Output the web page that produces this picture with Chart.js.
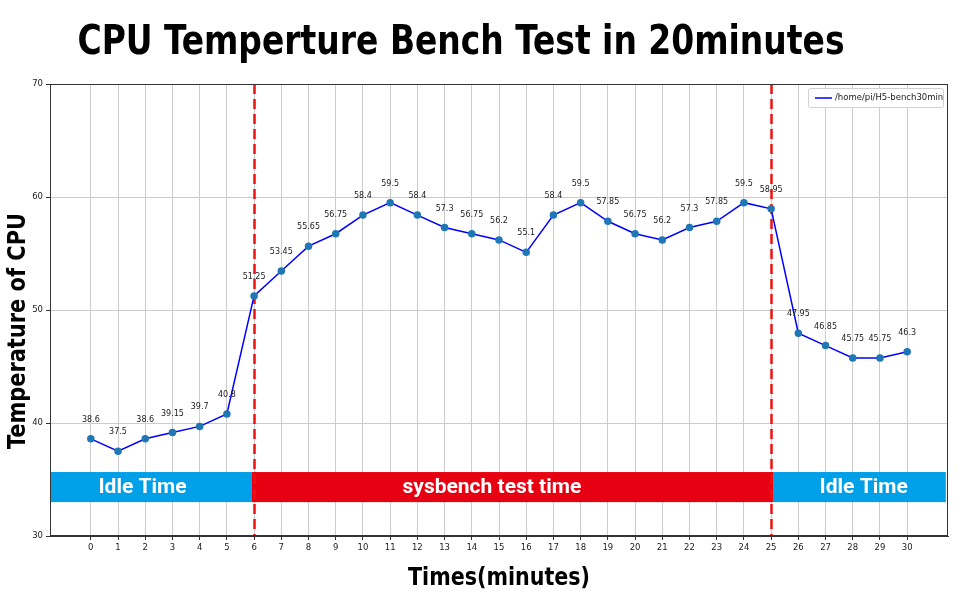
<!DOCTYPE html>
<html>
<head>
<meta charset="utf-8">
<script src="https://cdn.jsdelivr.net/npm/chart.js@4.4.1/dist/chart.umd.min.js"></script>
<style>
html,body{margin:0;padding:0;background:#fff;}
#wrap{width:970px;height:600px;}
</style>
</head>
<body>
<div id="wrap"><canvas id="c" width="970" height="600"></canvas></div>
<script>
// ---- data ----
const minutes = [0,1,2,3,4,5,6,7,8,9,10,11,12,13,14,15,16,17,18,19,20,21,22,23,24,25,26,27,28,29,30];
const temps = [38.6,37.5,38.6,39.15,39.7,40.8,51.25,53.45,55.65,56.75,58.4,59.5,58.4,57.3,56.75,56.2,55.1,58.4,59.5,57.85,56.75,56.2,57.3,57.85,59.5,58.95,47.95,46.85,45.75,45.75,46.3];
const tempLabels = ["38.6","37.5","38.6","39.15","39.7","40.8","51.25","53.45","55.65","56.75","58.4","59.5","58.4","57.3","56.75","56.2","55.1","58.4","59.5","57.85","56.75","56.2","57.3","57.85","59.5","58.95","47.95","46.85","45.75","45.75","46.3"];
const yTicks = [30,40,50,60,70];
const phaseMarkers = [6,25];
const bandNames = ["Idle Time","sysbench test time","Idle Time"];
const bandStart = [-1.5,5.92,25.07];
const bandEnd = [5.92,25.07,31.42];
const bandLabelAt = [1.9,14.74,28.4];
const bandLow = 33.0;
const bandHigh = 35.66;
const seriesName = "/home/pi/H5-bench30min";
const titleText = "CPU Temperture Bench Test in 20minutes";
const xTitle = "Times(minutes)";
const yTitle = "Temperature of CPU";

const bandColors = ["#00a0e9","#e60012","#00a0e9"];

function fitText(ctx, text, cx, cy, w, font, color, rot) {
  ctx.save();
  ctx.font = font;
  ctx.fillStyle = color;
  ctx.textAlign = 'center';
  ctx.textBaseline = 'middle';
  const m = ctx.measureText(text).width;
  ctx.translate(cx, cy);
  if (rot) ctx.rotate(rot);
  ctx.scale(w / m, 1);
  ctx.fillText(text, 0, 0);
  ctx.restore();
}

const decor = {
  id: 'decor',
  beforeDatasetsDraw(chart) {
    const {ctx, chartArea: a, scales: {x, y}} = chart;
    ctx.save();
    for (let i = 0; i < bandNames.length; i++) {
      const x0 = x.getPixelForValue(bandStart[i]);
      const x1 = x.getPixelForValue(bandEnd[i]);
      const y0 = y.getPixelForValue(bandHigh);
      const y1 = y.getPixelForValue(bandLow);
      ctx.fillStyle = bandColors[i];
      ctx.fillRect(x0, y0, x1 - x0, y1 - y0);
      ctx.font = 'bold 21px Roboto, "DejaVu Sans", sans-serif';
      ctx.fillStyle = '#ffffff';
      ctx.textAlign = 'center';
      ctx.textBaseline = 'middle';
      ctx.fillText(bandNames[i], x.getPixelForValue(bandLabelAt[i]), (y0 + y1) / 2 + 1);
    }
    ctx.strokeStyle = '#ee1111';
    ctx.lineWidth = 2.5;
    ctx.setLineDash([10, 5]);
    phaseMarkers.forEach(v => {
      const px = Math.round(x.getPixelForValue(v)) + 0.5;
      ctx.beginPath();
      ctx.moveTo(px, a.top);
      ctx.lineTo(px, a.bottom);
      ctx.stroke();
    });
    ctx.restore();
  },
  afterDatasetsDraw(chart) {
    const {ctx, chartArea: a} = chart;
    const meta = chart.getDatasetMeta(0);
    ctx.save();
    ctx.font = '8px "DejaVu Sans", sans-serif';
    ctx.fillStyle = '#222';
    ctx.textAlign = 'center';
    ctx.textBaseline = 'middle';
    meta.data.forEach((p, i) => {
      ctx.fillText(tempLabels[i], p.x, p.y - 19);
    });
    ctx.strokeStyle = '#333';
    ctx.lineWidth = 1;
    ctx.strokeRect(a.left + 0.5, a.top + 0.5, a.right - a.left - 1, a.bottom - a.top - 1);
    const lx = a.right - 140, ly = a.top + 4, lw = 135, lh = 19;
    ctx.fillStyle = 'rgba(255,255,255,0.9)';
    ctx.strokeStyle = '#d0d0d0';
    ctx.beginPath();
    ctx.roundRect(lx + 0.5, ly + 0.5, lw, lh, 2);
    ctx.fill();
    ctx.stroke();
    ctx.strokeStyle = '#0000ff';
    ctx.lineWidth = 1.5;
    ctx.beginPath();
    ctx.moveTo(lx + 7, ly + 10);
    ctx.lineTo(lx + 24, ly + 10);
    ctx.stroke();
    ctx.font = '8.5px "DejaVu Sans", sans-serif';
    ctx.fillStyle = '#222';
    ctx.textAlign = 'left';
    ctx.fillText(seriesName, lx + 27, ly + 10);
    ctx.restore();
  },
  afterDraw(chart) {
    const {ctx} = chart;
    fitText(ctx, titleText, 461, 44, 767, 'bold 40px "DejaVu Sans Condensed", "Liberation Sans", Arial, sans-serif', '#000', 0);
    fitText(ctx, xTitle, 499, 578, 182, 'bold 25px "DejaVu Sans Condensed", "Liberation Sans", Arial, sans-serif', '#000', 0);
    fitText(ctx, yTitle, 18, 331, 236, 'bold 25px "DejaVu Sans Condensed", "Liberation Sans", Arial, sans-serif', '#000', -Math.PI / 2);
  }
};

new Chart(document.getElementById('c'), {
  type: 'line',
  data: {
    datasets: [{
      label: seriesName,
      data: minutes.map((m, i) => ({x: m, y: temps[i]})),
      borderColor: '#0000ff',
      borderWidth: 1.5,
      backgroundColor: '#1f77b4',
      pointBackgroundColor: '#1f77b4',
      pointBorderColor: '#1f77b4',
      pointRadius: 3,
      tension: 0,
      fill: false
    }]
  },
  options: {
    responsive: false,
    animation: false,
    devicePixelRatio: 1,
    layout: {padding: {top: 84, right: 22, bottom: 0, left: 0}},
    plugins: {legend: {display: false}, title: {display: false}, tooltip: {enabled: false}},
    scales: {
      x: {
        type: 'linear',
        min: -1.5,
        max: 31.5,
        afterBuildTicks(scale) { scale.ticks = minutes.map(v => ({value: v})); },
        afterFit(scale) { scale.height = 64; },
        ticks: {
          autoSkip: false, maxRotation: 0,
          color: '#222', padding: 3,
          font: {size: 8.5, family: '"DejaVu Sans", sans-serif'},
          callback: v => String(v)
        },
        grid: {color: '#cccccc', lineWidth: 1, tickLength: 4, tickColor: '#333'},
        border: {display: true, color: '#333', width: 1}
      },
      y: {
        min: 30,
        max: 70,
        afterBuildTicks(scale) { scale.ticks = yTicks.map(v => ({value: v})); },
        afterFit(scale) { scale.width = 50; },
        ticks: {
          color: '#222', padding: 3,
          font: {size: 8.5, family: '"DejaVu Sans", sans-serif'}
        },
        grid: {color: '#cccccc', lineWidth: 1, tickLength: 4, tickColor: '#333'},
        border: {display: true, color: '#333', width: 1}
      }
    }
  },
  plugins: [decor]
});
</script>
</body>
</html>
